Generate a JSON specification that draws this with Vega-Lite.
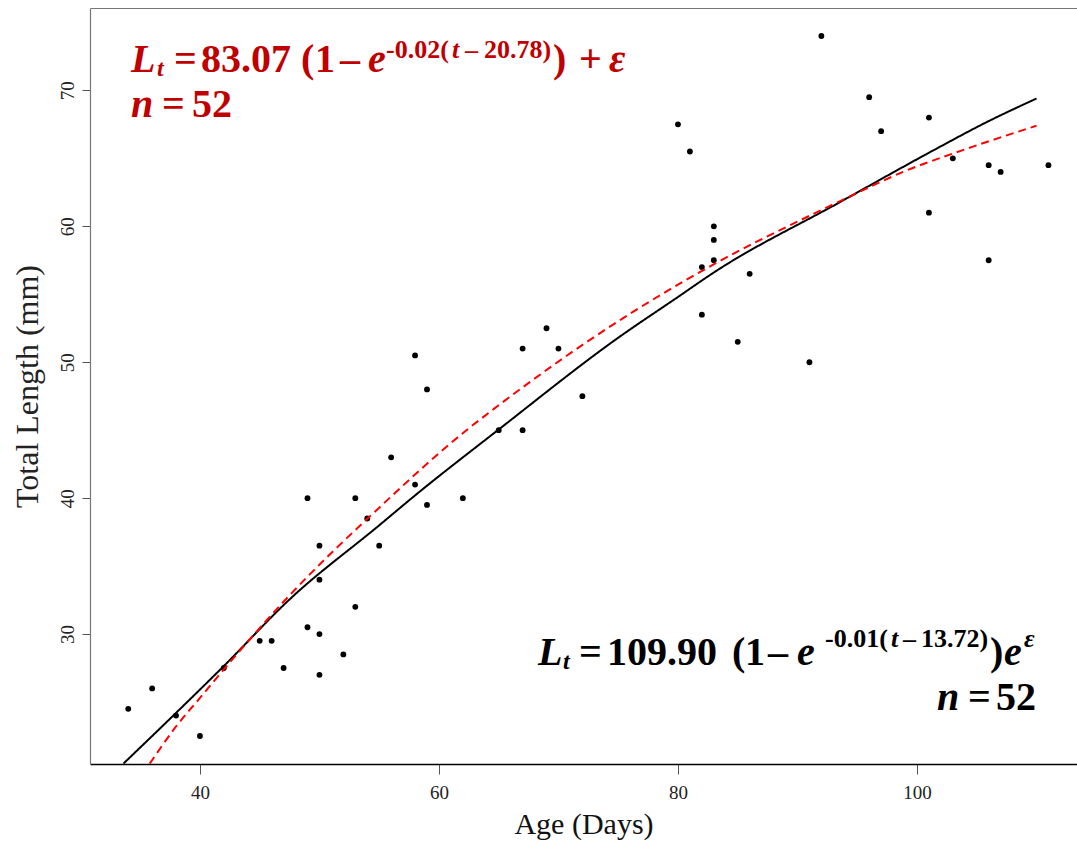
{
  "$schema": "https://vega.github.io/schema/vega-lite/v6.json",
  "width": 987,
  "height": 756,
  "autosize": {"type": "none"},
  "padding": {"left": 90, "top": 8, "right": 0, "bottom": 84},
  "background": "white",
  "config": {"view": {"stroke": null}, "font": "Liberation Serif"},
  "datasets": {
    "obs": [
      {"age": 34, "length": 24.5}, {"age": 36, "length": 26}, {"age": 38, "length": 24}, {"age": 40, "length": 22.5},
      {"age": 42, "length": 27.5}, {"age": 45, "length": 29.5}, {"age": 46, "length": 29.5}, {"age": 47, "length": 27.5},
      {"age": 49, "length": 30.5}, {"age": 49, "length": 40}, {"age": 50, "length": 30}, {"age": 50, "length": 27},
      {"age": 50, "length": 36.5}, {"age": 50, "length": 34}, {"age": 52, "length": 28.5}, {"age": 53, "length": 32},
      {"age": 53, "length": 40}, {"age": 54, "length": 38.5}, {"age": 55, "length": 36.5}, {"age": 56, "length": 43},
      {"age": 58, "length": 41}, {"age": 58, "length": 50.5}, {"age": 59, "length": 39.5}, {"age": 59, "length": 48},
      {"age": 62, "length": 40}, {"age": 65, "length": 45}, {"age": 67, "length": 45}, {"age": 67, "length": 51},
      {"age": 69, "length": 52.5}, {"age": 70, "length": 51}, {"age": 72, "length": 47.5}, {"age": 80, "length": 67.5},
      {"age": 81, "length": 65.5}, {"age": 82, "length": 57}, {"age": 82, "length": 53.5}, {"age": 83, "length": 60},
      {"age": 83, "length": 59}, {"age": 83, "length": 57.5}, {"age": 85, "length": 51.5}, {"age": 86, "length": 56.5},
      {"age": 91, "length": 50}, {"age": 92, "length": 74}, {"age": 96, "length": 69.5}, {"age": 97, "length": 67},
      {"age": 101, "length": 68}, {"age": 101, "length": 61}, {"age": 103, "length": 65}, {"age": 106, "length": 64.5},
      {"age": 106, "length": 57.5}, {"age": 107, "length": 64}, {"age": 111, "length": 64.5}
    ],
    "fits": [
      {"model": "Multiplicative", "age": 33.6, "length": 20.47},
      {"model": "Multiplicative", "age": 38, "length": 24.2},
      {"model": "Multiplicative", "age": 42, "length": 27.65},
      {"model": "Multiplicative", "age": 47.5, "length": 32.55},
      {"model": "Multiplicative", "age": 55, "length": 38.0},
      {"model": "Multiplicative", "age": 58, "length": 40.2},
      {"model": "Multiplicative", "age": 65, "length": 45.05},
      {"model": "Multiplicative", "age": 75, "length": 51.8},
      {"model": "Multiplicative", "age": 80, "length": 54.8},
      {"model": "Multiplicative", "age": 83, "length": 56.6},
      {"model": "Multiplicative", "age": 93.6, "length": 61.8},
      {"model": "Multiplicative", "age": 101.4, "length": 65.6},
      {"model": "Multiplicative", "age": 105.8, "length": 67.65},
      {"model": "Multiplicative", "age": 110, "length": 69.4},
      {"model": "Additive", "age": 35.8, "length": 20.47},
      {"model": "Additive", "age": 38, "length": 23.2},
      {"model": "Additive", "age": 40, "length": 25.3},
      {"model": "Additive", "age": 42, "length": 27.4},
      {"model": "Additive", "age": 47.5, "length": 32.85},
      {"model": "Additive", "age": 55, "length": 39.3},
      {"model": "Additive", "age": 62.3, "length": 45.0},
      {"model": "Additive", "age": 64.8, "length": 46.7},
      {"model": "Additive", "age": 75.15, "length": 53.1},
      {"model": "Additive", "age": 77.7, "length": 54.5},
      {"model": "Additive", "age": 83.2, "length": 57.3},
      {"model": "Additive", "age": 91.3, "length": 60.9},
      {"model": "Additive", "age": 94.4, "length": 62.2},
      {"model": "Additive", "age": 99.1, "length": 64.1},
      {"model": "Additive", "age": 103, "length": 65.35},
      {"model": "Additive", "age": 110, "length": 67.4}
    ],
    "notes": [
      {"model": "Additive", "role": "italic", "age": 34.23, "length": 71.35, "label": "L"},
      {"model": "Additive", "role": "sub", "age": 36.41, "length": 71.06, "label": "t"},
      {"model": "Additive", "role": "main", "age": 37.83, "length": 71.35, "label": "="},
      {"model": "Additive", "role": "main", "age": 40.09, "length": 71.35, "label": "83.07"},
      {"model": "Additive", "role": "main", "age": 48.46, "length": 71.35, "label": "("},
      {"model": "Additive", "role": "main", "age": 49.63, "length": 71.35, "label": "1"},
      {"model": "Additive", "role": "main", "age": 51.72, "length": 71.35, "label": "–"},
      {"model": "Additive", "role": "italic", "age": 54.06, "length": 71.35, "label": "e"},
      {"model": "Additive", "role": "sup", "age": 55.57, "length": 72.38, "label": "-0.02("},
      {"model": "Additive", "role": "supItalic", "age": 61.09, "length": 72.38, "label": "t"},
      {"model": "Additive", "role": "sup", "age": 62.18, "length": 72.38, "label": "–"},
      {"model": "Additive", "role": "sup", "age": 63.77, "length": 72.38, "label": "20.78)"},
      {"model": "Additive", "role": "main", "age": 69.55, "length": 71.35, "label": ")"},
      {"model": "Additive", "role": "main", "age": 71.72, "length": 71.35, "label": "+"},
      {"model": "Additive", "role": "italic", "age": 74.23, "length": 71.35, "label": "ε"},
      {"model": "Additive", "role": "italic", "age": 34.23, "length": 68.04, "label": "n"},
      {"model": "Additive", "role": "main", "age": 36.83, "length": 68.04, "label": "="},
      {"model": "Additive", "role": "main", "age": 39.34, "length": 68.04, "label": "52"},
      {"model": "Multiplicative", "role": "italic", "age": 68.29, "length": 27.72, "label": "L"},
      {"model": "Multiplicative", "role": "sub", "age": 70.38, "length": 27.43, "label": "t"},
      {"model": "Multiplicative", "role": "main", "age": 71.72, "length": 27.72, "label": "="},
      {"model": "Multiplicative", "role": "main", "age": 74.06, "length": 27.72, "label": "109.90"},
      {"model": "Multiplicative", "role": "main", "age": 84.52, "length": 27.72, "label": "("},
      {"model": "Multiplicative", "role": "main", "age": 85.61, "length": 27.72, "label": "1"},
      {"model": "Multiplicative", "role": "main", "age": 87.54, "length": 27.72, "label": "–"},
      {"model": "Multiplicative", "role": "italic", "age": 89.96, "length": 27.72, "label": "e"},
      {"model": "Multiplicative", "role": "sup", "age": 92.31, "length": 29.05, "label": "-0.01("},
      {"model": "Multiplicative", "role": "supItalic", "age": 97.83, "length": 29.05, "label": "t"},
      {"model": "Multiplicative", "role": "sup", "age": 98.83, "length": 29.05, "label": "–"},
      {"model": "Multiplicative", "role": "sup", "age": 100.34, "length": 29.05, "label": "13.72)"},
      {"model": "Multiplicative", "role": "main", "age": 106.11, "length": 27.72, "label": ")"},
      {"model": "Multiplicative", "role": "italic", "age": 107.29, "length": 27.72, "label": "e"},
      {"model": "Multiplicative", "role": "supItalic", "age": 108.96, "length": 29.05, "label": "ε"},
      {"model": "Multiplicative", "role": "italic", "age": 101.68, "length": 24.41, "label": "n"},
      {"model": "Multiplicative", "role": "main", "age": 104.27, "length": 24.41, "label": "="},
      {"model": "Multiplicative", "role": "main", "age": 106.62, "length": 24.41, "label": "52"}
    ]
  },
  "layer": [
    {
      "data": {"name": "obs"},
      "mark": {"type": "circle", "size": 34, "color": "#000000", "opacity": 1},
      "encoding": {
        "x": {"field": "age", "type": "quantitative",
          "scale": {"domain": [30.8, 113.39], "nice": false, "zero": false},
          "axis": {"orient": "bottom", "values": [40, 60, 80, 100], "title": "Age (Days)", "grid": false,
            "domainColor": "#000000", "domainWidth": 1.5, "tickColor": "#555555", "tickWidth": 1, "tickSize": 10,
            "labelFont": "Liberation Serif", "labelFontSize": 19, "labelColor": "#222222", "labelPadding": 9, "labelFlush": false,
            "titleFont": "Liberation Serif", "titleFontSize": 30, "titleFontWeight": "normal", "titleColor": "#111111", "titlePadding": 7}},
        "y": {"field": "length", "type": "quantitative",
          "scale": {"domain": [20.44, 76.06], "nice": false, "zero": false},
          "axis": {"orient": "left", "values": [30, 40, 50, 60, 70], "title": "Total Length (mm)", "grid": false,
            "domainColor": "#777777", "domainWidth": 1.2, "tickColor": "#555555", "tickWidth": 1, "tickSize": 8,
            "labelAngle": -90, "labelAlign": "center", "labelBaseline": "bottom", "labelPadding": 5, "labelFlush": false,
            "labelFont": "Liberation Serif", "labelFontSize": 19, "labelColor": "#222222",
            "titleFont": "Liberation Serif", "titleFontSize": 32, "titleFontWeight": "normal", "titleColor": "#222222", "titlePadding": 14}}
      }
    },
    {
      "data": {"name": "fits"},
      "mark": {"type": "line", "strokeWidth": 2, "interpolate": "monotone"},
      "encoding": {
        "x": {"field": "age", "type": "quantitative",
          "scale": {"domain": [30.8, 113.39], "nice": false, "zero": false},
          "axis": {"orient": "top", "title": null, "grid": false, "ticks": false, "labels": false, "domainColor": "#777777", "domainWidth": 1.2}},
        "y": {"field": "length", "type": "quantitative"},
        "color": {"field": "model", "type": "nominal", "scale": {"domain": ["Multiplicative", "Additive"], "range": ["#000000", "#FF0000"]}, "legend": null},
        "strokeDash": {"field": "model", "type": "nominal", "scale": {"domain": ["Multiplicative", "Additive"], "range": [[1, 0], [8, 5]]}, "legend": null},
        "order": {"field": "age", "type": "quantitative"}
      }
    },
    {
      "data": {"name": "notes"},
      "transform": [{"filter": "datum.role === 'main'"}],
      "mark": {"type": "text", "align": "left", "baseline": "alphabetic", "font": "Liberation Serif", "fontSize": 40, "fontWeight": "bold"},
      "encoding": {
        "x": {"field": "age", "type": "quantitative", "axis": null},
        "y": {"field": "length", "type": "quantitative"},
        "text": {"field": "label"},
        "color": {"field": "model", "type": "nominal", "scale": {"domain": ["Multiplicative", "Additive"], "range": ["#000000", "#C00000"]}, "legend": null}
      }
    },
    {
      "data": {"name": "notes"},
      "transform": [{"filter": "datum.role === 'italic'"}],
      "mark": {"type": "text", "align": "left", "baseline": "alphabetic", "font": "Liberation Serif", "fontSize": 40, "fontWeight": "bold", "fontStyle": "italic"},
      "encoding": {
        "x": {"field": "age", "type": "quantitative", "axis": null},
        "y": {"field": "length", "type": "quantitative"},
        "text": {"field": "label"},
        "color": {"field": "model", "type": "nominal", "scale": {"domain": ["Multiplicative", "Additive"], "range": ["#000000", "#C00000"]}, "legend": null}
      }
    },
    {
      "data": {"name": "notes"},
      "transform": [{"filter": "datum.role === 'sub'"}],
      "mark": {"type": "text", "align": "left", "baseline": "alphabetic", "font": "Liberation Serif", "fontSize": 24, "fontWeight": "bold", "fontStyle": "italic"},
      "encoding": {
        "x": {"field": "age", "type": "quantitative", "axis": null},
        "y": {"field": "length", "type": "quantitative"},
        "text": {"field": "label"},
        "color": {"field": "model", "type": "nominal", "scale": {"domain": ["Multiplicative", "Additive"], "range": ["#000000", "#C00000"]}, "legend": null}
      }
    },
    {
      "data": {"name": "notes"},
      "transform": [{"filter": "datum.role === 'sup'"}],
      "mark": {"type": "text", "align": "left", "baseline": "alphabetic", "font": "Liberation Serif", "fontSize": 26, "fontWeight": "bold"},
      "encoding": {
        "x": {"field": "age", "type": "quantitative", "axis": null},
        "y": {"field": "length", "type": "quantitative"},
        "text": {"field": "label"},
        "color": {"field": "model", "type": "nominal", "scale": {"domain": ["Multiplicative", "Additive"], "range": ["#000000", "#C00000"]}, "legend": null}
      }
    },
    {
      "data": {"name": "notes"},
      "transform": [{"filter": "datum.role === 'supItalic'"}],
      "mark": {"type": "text", "align": "left", "baseline": "alphabetic", "font": "Liberation Serif", "fontSize": 26, "fontWeight": "bold", "fontStyle": "italic"},
      "encoding": {
        "x": {"field": "age", "type": "quantitative", "axis": null},
        "y": {"field": "length", "type": "quantitative"},
        "text": {"field": "label"},
        "color": {"field": "model", "type": "nominal", "scale": {"domain": ["Multiplicative", "Additive"], "range": ["#000000", "#C00000"]}, "legend": null}
      }
    }
  ],
  "resolve": {"axis": {"x": "independent"}, "scale": {"color": "independent", "strokeDash": "independent"}}
}
